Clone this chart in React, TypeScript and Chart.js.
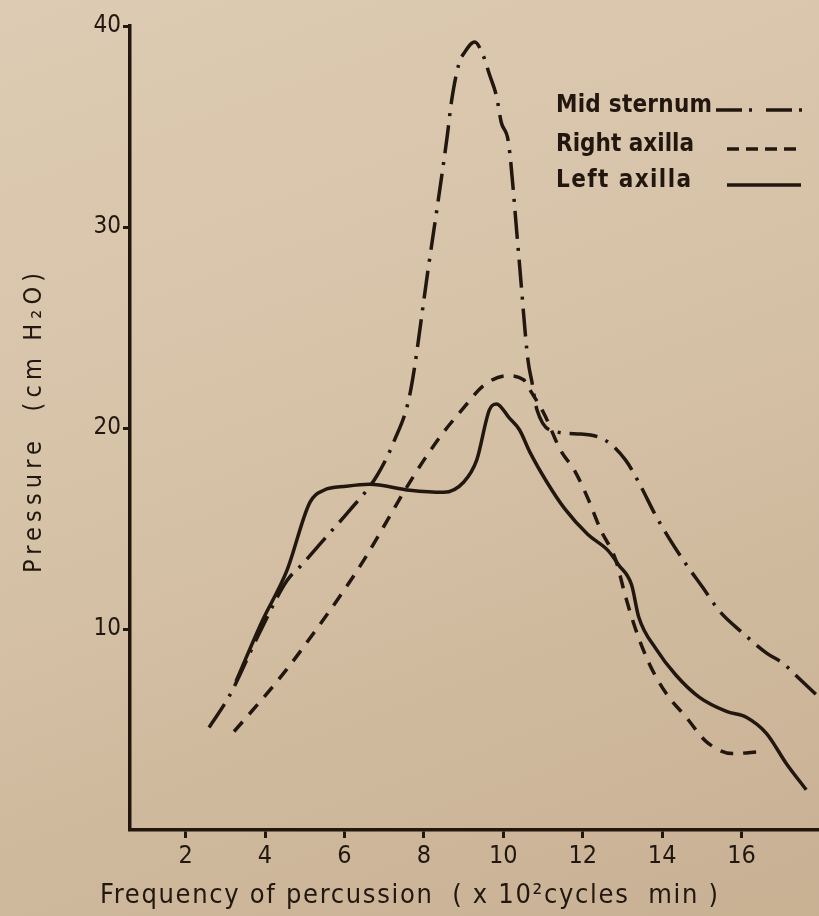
import React, { useEffect, useRef } from "react";
import { Chart, registerables } from "chart.js";

Chart.register(...registerables);

const xTicks = [2, 4, 6, 8, 10, 12, 14, 16];
const yTicks = [10, 20, 30, 40];

const seriesLabels = ["Mid sternum", "Right axilla", "Left axilla"];

const midSternumX = [2.59, 3.11, 3.81, 4.55, 4.93, 5.55, 6.13, 6.81, 7.24, 7.65, 8.1, 8.58, 8.7, 8.88, 9.03, 9.28, 9.5, 9.65, 9.83, 9.95, 10.13, 10.38, 10.62, 10.72, 10.85, 11.36, 11.95, 12.56, 13.08, 13.41, 13.85, 14.18, 14.61, 15.01, 15.44, 16.03, 16.63, 17.04, 17.47, 17.9];
const midSternumY = [5.1, 6.7, 9.6, 12.4, 13.2, 14.6, 15.9, 17.6, 19.3, 21.7, 27.8, 34.4, 36.3, 38.1, 38.7, 39.2, 38.5, 37.6, 36.5, 35.2, 34.2, 28.8, 23.4, 22.3, 20.9, 19.8, 19.7, 19.4, 18.4, 17.3, 15.6, 14.5, 13.2, 12.1, 10.9, 9.8, 8.8, 8.3, 7.5, 6.7];

const rightAxillaX = [3.22, 3.88, 4.55, 5.3, 5.98, 6.48, 6.99, 7.49, 8.0, 8.5, 9.0, 9.5, 10.08, 10.51, 10.67, 11.03, 11.44, 11.79, 12.13, 12.46, 12.82, 13.08, 13.33, 13.67, 14.1, 14.61, 15.11, 15.77, 16.46];
const rightAxillaY = [4.9, 6.4, 8.0, 10.0, 11.9, 13.4, 15.1, 16.8, 18.4, 19.8, 21.0, 22.1, 22.6, 22.4, 21.9, 20.7, 18.9, 17.9, 16.5, 14.9, 13.5, 11.6, 10.0, 8.3, 6.8, 5.6, 4.4, 3.8, 3.9];

const leftAxillaX = [3.27, 3.93, 4.55, 5.13, 5.48, 6.05, 6.63, 7.65, 8.5, 9.0, 9.33, 9.65, 9.83, 10.15, 10.41, 10.67, 11.1, 11.54, 12.13, 12.64, 12.9, 13.23, 13.41, 13.85, 14.35, 14.94, 15.62, 16.13, 16.63, 17.13, 17.63];
const leftAxillaY = [7.4, 10.4, 12.9, 16.3, 16.9, 17.1, 17.2, 16.9, 16.8, 17.3, 18.4, 20.9, 21.2, 20.5, 19.9, 18.8, 17.3, 16.0, 14.7, 13.9, 13.2, 12.2, 10.6, 9.0, 7.7, 6.6, 5.9, 5.6, 4.8, 3.3, 2.0];

const xTitle = "Frequency of percussion  ( x 10\u00B2cycles  min )";
const yTitle = "Pressure  (cm H\u2082O)";

const INK = "#22170f";
const NARROW = '"Liberation Sans Narrow", "DejaVu Sans Condensed", sans-serif';

const toPoints = (xs: number[], ys: number[]) => xs.map((x, i) => ({ x, y: ys[i] }));

const fitText = (ctx: CanvasRenderingContext2D, text: string, left: number, y: number, width: number) => {
  (ctx as any).letterSpacing = "0px";
  const w0 = ctx.measureText(text).width;
  const s = (width - w0) / Math.max(1, text.length - 1);
  (ctx as any).letterSpacing = `${s}px`;
  ctx.fillText(text, left, y);
  (ctx as any).letterSpacing = "0px";
};

const decorPlugin = {
  id: "decor",
  afterDraw(chart: any) {
    const ctx = chart.ctx as CanvasRenderingContext2D;
    ctx.save();
    ctx.fillStyle = INK;
    ctx.textBaseline = "middle";
    ctx.textAlign = "left";

    // x axis title
    ctx.font = `27px ${NARROW}`;
    fitText(ctx, xTitle, 100, 896, 618);

    // y axis title
    ctx.save();
    ctx.translate(34, 423);
    ctx.rotate(-Math.PI / 2);
    ctx.font = `25px ${NARROW}`;
    fitText(ctx, yTitle, -150, 0, 300);
    ctx.restore();

    // legend
    const legendY = [106, 145, 181];
    const legendW = [156, 138, 135];
    const lineStart = [716, 727, 727];
    const lineEnd = [802, 800, 801];
    const legendDash = [[26, 7, 3, 14], [12, 7], []];
    ctx.font = `bold 24px ${NARROW}`;
    chart.data.datasets.forEach((ds: any, i: number) => {
      const y = legendY[i];
      ctx.fillStyle = INK;
      fitText(ctx, ds.label, 556, y, legendW[i]);
      ctx.beginPath();
      ctx.setLineDash(legendDash[i]);
      ctx.lineWidth = 3.5;
      ctx.strokeStyle = INK;
      ctx.moveTo(lineStart[i], y + 4);
      ctx.lineTo(lineEnd[i], y + 4);
      ctx.stroke();
    });
    ctx.restore();
  },
};

export default function App() {
  const ref = useRef<HTMLCanvasElement | null>(null);

  useEffect(() => {
    if (!ref.current) return;
    const common = {
      borderColor: INK,
      borderWidth: 3.5,
      pointRadius: 0,
      fill: false,
      cubicInterpolationMode: "monotone" as const,
    };
    const chart = new Chart(ref.current, {
      type: "line",
      data: {
        datasets: [
          { ...common, label: seriesLabels[0], data: toPoints(midSternumX, midSternumY), borderDash: [28, 9, 3, 9] },
          { ...common, label: seriesLabels[1], data: toPoints(rightAxillaX, rightAxillaY), borderDash: [13, 10] },
          { ...common, label: seriesLabels[2], data: toPoints(leftAxillaX, leftAxillaY) },
        ],
      },
      options: {
        animation: false,
        responsive: false,
        devicePixelRatio: 1,
        layout: { padding: { top: 26, right: 0, left: 0, bottom: 0 } },
        plugins: { legend: { display: false }, tooltip: { enabled: false } },
        scales: {
          x: {
            type: "linear",
            min: 0.6,
            max: 17.95,
            afterBuildTicks: (axis: any) => {
              axis.ticks = xTicks.map((v) => ({ value: v }));
            },
            afterFit: (scale: any) => {
              scale.height = 86;
            },
            grid: { display: true, drawOnChartArea: false, drawTicks: true, tickLength: 8, tickWidth: 3, tickColor: INK },
            border: { display: true, width: 3.5, color: INK },
            ticks: { color: INK, font: { family: NARROW, size: 25 }, padding: 3, maxRotation: 0, autoSkip: false },
          },
          y: {
            type: "linear",
            min: 0,
            max: 40,
            afterBuildTicks: (axis: any) => {
              axis.ticks = yTicks.map((v) => ({ value: v }));
            },
            afterFit: (scale: any) => {
              scale.width = 130;
            },
            grid: { display: true, drawOnChartArea: false, drawTicks: true, tickLength: 7, tickWidth: 3, tickColor: INK },
            border: { display: true, width: 3.5, color: INK },
            ticks: { color: INK, font: { family: NARROW, size: 24 }, padding: 2, autoSkip: false },
          },
        },
      },
      plugins: [decorPlugin],
    });
    return () => chart.destroy();
  }, []);

  return (
    <div
      style={{
        position: "fixed",
        left: 0,
        top: 0,
        width: 819,
        height: 916,
        background: "linear-gradient(160deg, #ddcbb3 0%, #d6c2a7 45%, #c8b093 100%)",
      }}
    >
      <canvas ref={ref} width={819} height={916} style={{ display: "block" }} />
    </div>
  );
}
